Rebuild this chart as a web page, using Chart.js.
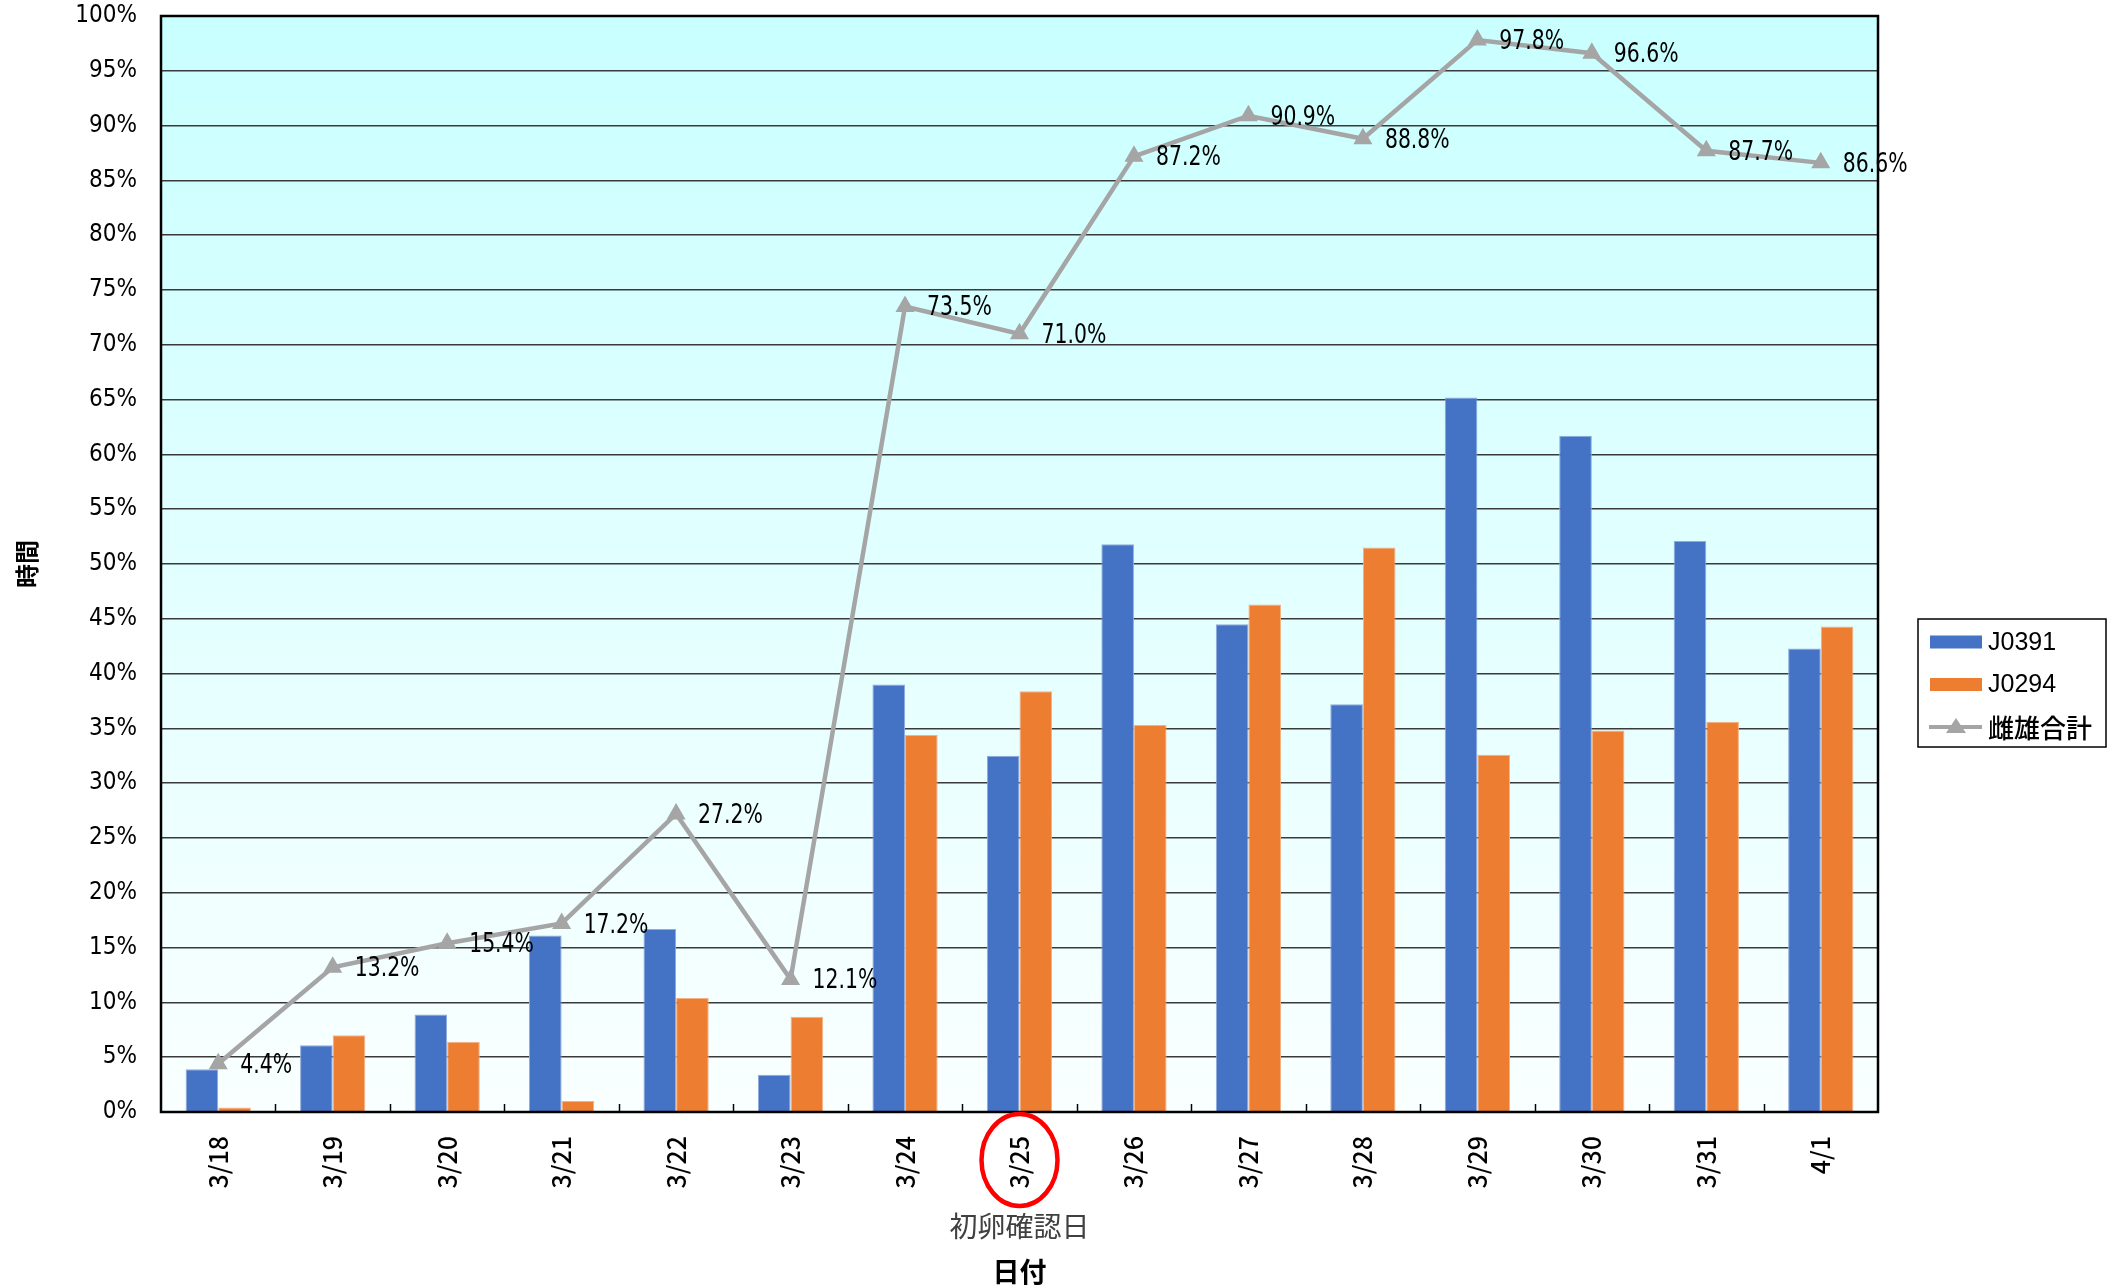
<!DOCTYPE html>
<html lang="ja">
<head>
<meta charset="utf-8">
<title>雌雄合計</title>
<script src="https://cdn.jsdelivr.net/npm/chart.js@4.4.1/dist/chart.umd.min.js"></script>
<style>
  body { margin: 0; background: #fff; }
  #wrap { width: 2122px; height: 1288px; }
</style>
</head>
<body>
<div id="wrap"><canvas id="chart" width="2122" height="1288"></canvas></div>
<script>
// --- data ---
const days = ['3/18', '3/19', '3/20', '3/21', '3/22', '3/23', '3/24', '3/25', '3/26', '3/27', '3/28', '3/29', '3/30', '3/31', '4/1'];
const j0391 = [3.9, 6.1, 8.9, 16.1, 16.7, 3.4, 39.0, 32.5, 51.8, 44.5, 37.2, 65.2, 61.7, 52.1, 42.3];
const j0294 = [0.4, 7.0, 6.4, 1.0, 10.4, 8.7, 34.4, 38.4, 35.3, 46.3, 51.5, 32.6, 34.8, 35.6, 44.3];
const total = [4.4, 13.2, 15.4, 17.2, 27.2, 12.1, 73.5, 71.0, 87.2, 90.9, 88.8, 97.8, 96.6, 87.7, 86.6];
const yTicks = [0, 5, 10, 15, 20, 25, 30, 35, 40, 45, 50, 55, 60, 65, 70, 75, 80, 85, 90, 95, 100];
const markedDay = '3/25';
const markedNote = '初卵確認日';

const BLUE = '#4472C4';
const ORANGE = '#ED7D31';
const GRAY = '#A5A5A5';
const NARROW = '"Liberation Sans Narrow", "DejaVu Sans Condensed", sans-serif';
const JP = '"Noto Sans CJK JP", sans-serif';

// plot background: cyan fading to white
const backgroundPlugin = {
    id: 'plotBg',
    beforeDraw(chart) {
        const { ctx, chartArea: a } = chart;
        const g = ctx.createLinearGradient(0, a.top, 0, a.bottom);
        g.addColorStop(0, '#C9FFFF');
        g.addColorStop(1, '#FAFFFF');
        ctx.save();
        ctx.fillStyle = g;
        ctx.fillRect(a.left, a.top, a.right - a.left, a.bottom - a.top);
        ctx.restore();
    }
};

// frame, inner category ticks and the value labels of the total line
const decorPlugin = {
    id: 'decor',
    afterDatasetsDraw(chart) {
        const { ctx, chartArea: a, scales } = chart;
        const x = scales.x;
        ctx.save();

        // small tick marks between categories, pointing into the plot
        ctx.strokeStyle = '#000';
        ctx.lineWidth = 1.5;
        for (let i = 1; i < days.length; i++) {
            const px = Math.round((x.getPixelForValue(i - 1) + x.getPixelForValue(i)) / 2) + 0.5;
            ctx.beginPath();
            ctx.moveTo(px, a.bottom);
            ctx.lineTo(px, a.bottom - 8);
            ctx.stroke();
        }

        // frame
        ctx.lineWidth = 2.5;
        ctx.strokeRect(a.left, a.top, a.right - a.left, a.bottom - a.top);

        // labels of the line dataset (squeezed, the original font is narrow)
        const meta = chart.getDatasetMeta(0);
        ctx.fillStyle = '#000';
        ctx.font = '27px ' + NARROW;
        ctx.textAlign = 'left';
        ctx.textBaseline = 'middle';
        meta.data.forEach((pt, i) => {
            ctx.save();
            ctx.translate(pt.x + 22, pt.y + 2);
            ctx.scale(0.84, 1);
            ctx.fillText(total[i].toFixed(1) + '%', 0, 0);
            ctx.restore();
        });
        ctx.restore();
    },
    afterDraw(chart) {
        const { ctx, scales } = chart;
        ctx.save();

        // red ring round the first-egg day and its note
        const cx = scales.x.getPixelForValue(days.indexOf(markedDay));
        ctx.strokeStyle = '#FF0000';
        ctx.lineWidth = 4.5;
        ctx.beginPath();
        ctx.ellipse(cx, 1160, 38, 46, 0, 0, Math.PI * 2);
        ctx.stroke();
        ctx.fillStyle = '#404040';
        ctx.font = '28px ' + JP;
        ctx.textAlign = 'center';
        ctx.textBaseline = 'middle';
        ctx.fillText(markedNote, cx, 1226);

        // legend box
        const lx = 1918, ly = 619, lw = 188, lh = 128;
        ctx.fillStyle = '#fff';
        ctx.fillRect(lx, ly, lw, lh);
        ctx.strokeStyle = '#000';
        ctx.lineWidth = 1.5;
        ctx.strokeRect(lx, ly, lw, lh);

        const ds = chart.data.datasets;
        const rows = [ds[1], ds[2], ds[0]];
        ctx.textAlign = 'left';
        rows.forEach((d, i) => {
            const cy = 642 + i * 42.5;
            if (d.type === 'line') {
                ctx.strokeStyle = d.borderColor;
                ctx.lineWidth = 4;
                ctx.beginPath();
                ctx.moveTo(1929, cy);
                ctx.lineTo(1982, cy);
                ctx.stroke();
                ctx.fillStyle = d.borderColor;
                ctx.beginPath();
                ctx.moveTo(1956, cy - 9);
                ctx.lineTo(1966, cy + 6);
                ctx.lineTo(1946, cy + 6);
                ctx.closePath();
                ctx.fill();
                ctx.font = '500 26px ' + JP;
            } else {
                ctx.fillStyle = d.backgroundColor;
                ctx.fillRect(1930, cy - 6.5, 52, 13);
                ctx.font = '25px "Liberation Sans", sans-serif';
            }
            ctx.fillStyle = '#000';
            ctx.fillText(d.label, 1988, cy + 1);
        });
        ctx.restore();
    }
};

new Chart(document.getElementById('chart'), {
    data: {
        labels: days,
        datasets: [
            {
                type: 'line',
                label: '雌雄合計',
                data: total,
                borderColor: GRAY,
                backgroundColor: GRAY,
                borderWidth: 4.5,
                pointStyle: 'triangle',
                pointRadius: 11,
                pointBackgroundColor: GRAY,
                pointBorderWidth: 0,
                tension: 0,
                order: 0
            },
            {
                type: 'bar',
                label: 'J0391',
                data: j0391,
                backgroundColor: BLUE,
                borderColor: '#8FAADC',
                borderWidth: { top: 1, left: 1, right: 1, bottom: 0 },
                categoryPercentage: 0.57,
                barPercentage: 1.0,
                order: 1
            },
            {
                type: 'bar',
                label: 'J0294',
                data: j0294,
                backgroundColor: ORANGE,
                borderColor: '#F4B183',
                borderWidth: { top: 1, left: 1, right: 1, bottom: 0 },
                categoryPercentage: 0.57,
                barPercentage: 1.0,
                order: 1
            }
        ]
    },
    options: {
        responsive: false,
        animation: false,
        layout: { padding: { top: 16, right: 244, bottom: 0, left: 0 } },
        plugins: {
            legend: { display: false },
            tooltip: { enabled: false }
        },
        scales: {
            x: {
                grid: { display: false },
                border: { display: false },
                ticks: {
                    color: '#000',
                    font: { family: JP, size: 25, weight: 500 },
                    minRotation: 90,
                    maxRotation: 90,
                    autoSkip: false,
                    padding: 16
                },
                title: {
                    display: true,
                    text: '日付',
                    color: '#000',
                    font: { family: JP, size: 27, weight: 'bold' },
                    padding: { top: 0, bottom: 0 }
                },
                afterFit(scale) {
                    scale.height = 176;
                    scale.paddingLeft = 0;
                    scale.paddingRight = 0;
                }
            },
            y: {
                min: 0,
                max: 100,
                afterBuildTicks(scale) { scale.ticks = yTicks.map(v => ({ value: v })); },
                grid: { color: '#3a3a3a', lineWidth: 1.5, drawTicks: false },
                border: { display: false },
                ticks: {
                    color: '#000',
                    font: { family: NARROW, size: 24 },
                    padding: 24,
                    callback: v => v + '%'
                },
                title: {
                    display: true,
                    text: '時間',
                    color: '#000',
                    font: { family: JP, size: 24, weight: 'bold' },
                    padding: { top: 12, bottom: 0 }
                },
                afterFit(scale) {
                    scale.width = 161;
                    scale.paddingTop = 0;
                    scale.paddingBottom = 0;
                }
            }
        }
    },
    plugins: [backgroundPlugin, decorPlugin]
});
</script>
</body>
</html>
